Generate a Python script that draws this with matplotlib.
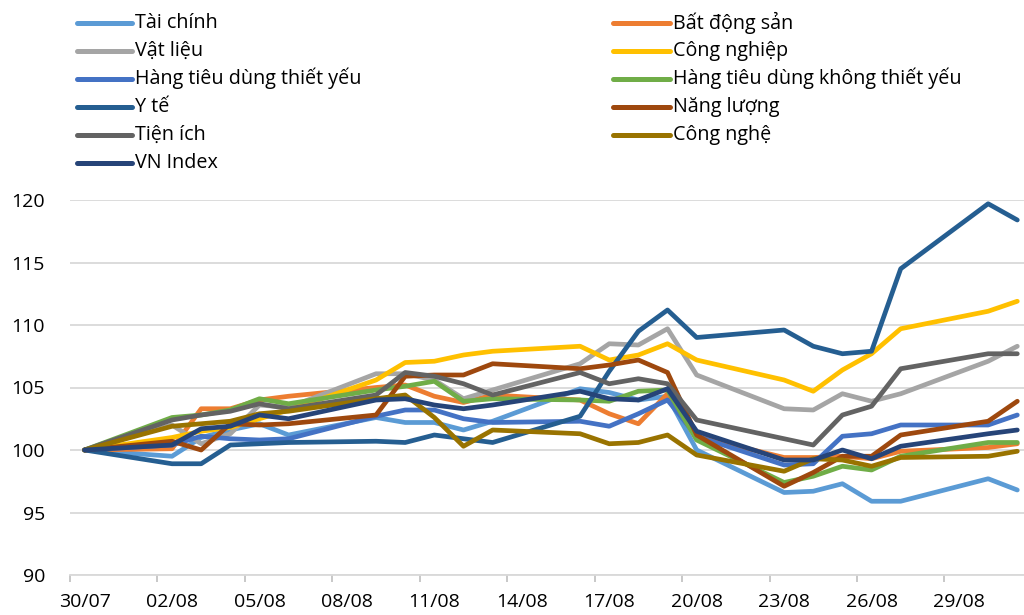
import matplotlib
matplotlib.use("Agg")
import matplotlib.pyplot as plt
import matplotlib.dates as mdates
from matplotlib.lines import Line2D
import pandas as pd

# ---------------- data ----------------
dates = ["2021-07-30", "2021-08-02", "2021-08-03", "2021-08-04", "2021-08-05", "2021-08-06",
         "2021-08-09", "2021-08-10", "2021-08-11", "2021-08-12", "2021-08-13",
         "2021-08-16", "2021-08-17", "2021-08-18", "2021-08-19", "2021-08-20",
         "2021-08-23", "2021-08-24", "2021-08-25", "2021-08-26", "2021-08-27",
         "2021-08-30", "2021-08-31"]

tai_chinh = [100, 99.5, 101.0, 101.6, 102.1, 101.2, 102.6, 102.2, 102.2, 101.6, 102.3,
             104.9, 104.6, 104.0, 104.3, 100.0, 96.6, 96.7, 97.3, 95.9, 95.9, 97.7, 96.8]
bat_dong_san = [100, 100.1, 103.3, 103.3, 104.0, 104.3, 105.0, 105.2, 104.3, 103.8, 104.4,
                104.0, 102.9, 102.1, 104.5, 101.1, 99.4, 99.4, 99.5, 99.3, 99.9, 100.2, 100.5]
vat_lieu = [100, 102.0, 100.5, 101.3, 103.6, 103.4, 106.1, 106.1, 105.6, 104.1, 104.8,
            106.9, 108.5, 108.4, 109.7, 106.0, 103.3, 103.2, 104.5, 103.9, 104.5, 107.1, 108.3]
cong_nghiep = [100, 101.0, 101.5, 101.8, 102.5, 103.2, 105.6, 107.0, 107.1, 107.6, 107.9,
               108.3, 107.2, 107.6, 108.5, 107.2, 105.6, 104.7, 106.4, 107.7, 109.7, 111.1, 111.9]
htd_thiet_yeu = [100, 100.4, 101.1, 100.9, 100.8, 100.9, 102.7, 103.2, 103.2, 102.5, 102.2,
                 102.3, 101.9, 102.9, 104.0, 101.1, 98.8, 98.9, 101.1, 101.3, 102.0, 102.0, 102.8]
htd_khong_thiet_yeu = [100, 102.6, 102.8, 103.2, 104.1, 103.7, 104.8, 105.1, 105.5, 103.9, 104.1,
                       104.0, 103.9, 104.7, 104.8, 100.8, 97.4, 97.9, 98.7, 98.4, 99.5, 100.6, 100.6]
y_te = [100, 98.9, 98.9, 100.4, 100.5, 100.6, 100.7, 100.6, 101.2, 100.9, 100.6,
        102.7, 106.3, 109.5, 111.2, 109.0, 109.6, 108.3, 107.7, 107.9, 114.5, 119.7, 118.4]
nang_luong = [100, 100.7, 100.0, 102.1, 102.0, 102.1, 102.8, 105.9, 106.0, 106.0, 106.9,
              106.5, 106.8, 107.2, 106.2, 101.2, 97.1, 98.2, 99.5, 99.5, 101.2, 102.3, 103.9]
tien_ich = [100, 102.4, 102.8, 103.1, 103.7, 103.3, 104.4, 106.2, 105.9, 105.3, 104.4,
            106.2, 105.3, 105.7, 105.3, 102.4, 100.9, 100.4, 102.8, 103.5, 106.5, 107.7, 107.7]
cong_nghe = [100, 101.9, 102.1, 102.3, 102.9, 103.1, 104.1, 104.4, 102.6, 100.3, 101.6,
             101.3, 100.5, 100.6, 101.2, 99.6, 98.3, 99.3, 99.2, 98.7, 99.4, 99.5, 99.9]
vn_index = [100, 100.4, 101.7, 101.9, 102.8, 102.5, 104.0, 104.1, 103.6, 103.3, 103.6,
            104.7, 104.1, 104.0, 104.9, 101.5, 99.2, 99.2, 100.0, 99.3, 100.3, 101.3, 101.6]

names = ["Tài chính", "Bất động sản", "Vật liệu", "Công nghiệp",
         "Hàng tiêu dùng thiết yếu", "Hàng tiêu dùng không thiết yếu",
         "Y tế", "Năng lượng", "Tiện ích", "Công nghệ", "VN Index"]
series = [tai_chinh, bat_dong_san, vat_lieu, cong_nghiep, htd_thiet_yeu,
          htd_khong_thiet_yeu, y_te, nang_luong, tien_ich, cong_nghe, vn_index]
colors = ["#5B9BD5", "#ED7D31", "#A5A5A5", "#FFC000", "#4472C4", "#70AD47",
          "#255E91", "#9E480E", "#636363", "#997300", "#264478"]

# ---------------- figure ----------------
W, H = 1024, 615
plt.rcParams['font.family'] = ['Open Sans', 'DejaVu Sans']
fig = plt.figure(figsize=(W / 100, H / 100), dpi=100)

def fx(px):
    return px / W

def fy(py):
    return 1 - py / H

ax = fig.add_axes([fx(70), fy(575), fx(1024) - fx(70), fy(200) - fy(575)])

d = pd.to_datetime(dates)
x0 = mdates.date2num(d[0])
xs = mdates.date2num(d) + 0.5  # points centred in each day slot

for vals, name, col in zip(series, names, colors):
    ax.plot(xs, vals, color=col, lw=3.4, solid_capstyle='round',
            solid_joinstyle='round', label=name, clip_on=False)

ax.set_ylim(90, 120)
ax.set_yticks(range(90, 121, 5))
ax.set_xlim(x0, x0 + 32.73)

# tick marks at day boundaries every 3 days, labels centred on the day
major = [x0 + 3 * k for k in range(11)]
ax.set_xticks(major)
ax.set_xticklabels([])
ax.set_xticks([m + 0.5 for m in major], minor=True)
ax.set_xticklabels([mdates.num2date(m).strftime("%d/%m") for m in major], minor=True)
ax.tick_params(axis='x', which='major', length=5, width=1.2, color='#BFBFBF')
ax.tick_params(axis='x', which='minor', length=0, pad=13, labelsize=14, labelcolor='#000000')
ax.tick_params(axis='y', length=0, pad=18, labelsize=14, labelcolor='#000000')

ax.grid(axis='y', color='#D9D9D9', lw=1.3)
ax.set_axisbelow(True)
for s in ['top', 'right', 'left']:
    ax.spines[s].set_visible(False)
ax.spines['bottom'].set_color('#D9D9D9')
ax.spines['bottom'].set_linewidth(1.3)

# ---------------- legend (two columns, row-wise order) ----------------
col_line_x = [(77, 132), (613, 670)]
col_text_x = [135, 673]
row_y0, row_dy = 22.7, 28.0
for i, (name, col) in enumerate(zip(names, colors)):
    r, c = divmod(i, 2)
    y = row_y0 + r * row_dy
    l = Line2D([fx(col_line_x[c][0]), fx(col_line_x[c][1])], [fy(y), fy(y)],
               transform=fig.transFigure, color=col, lw=3.6, solid_capstyle='round')
    fig.add_artist(l)
    fig.text(fx(col_text_x[c]), fy(y), name, fontsize=14.2, va='center', ha='left',
             color='#000000')

fig.savefig("out.png", dpi=100)
